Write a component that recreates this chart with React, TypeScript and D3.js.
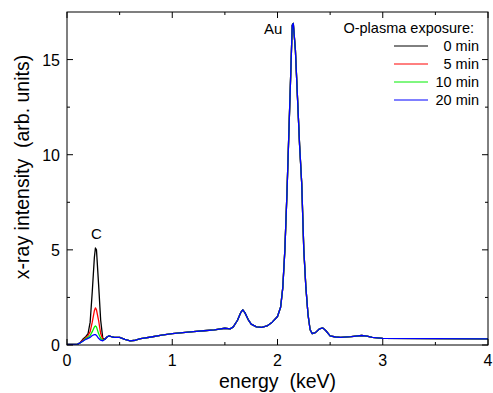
import React, { useEffect, useRef } from 'react';
import * as d3 from 'd3';

// energies (keV) of the C region, where the 4 series differ
const cEnergy = [0, 0.05, 0.1, 0.12, 0.15, 0.18, 0.2, 0.22, 0.24, 0.26, 0.27, 0.28, 0.3, 0.32, 0.34];
const c0min = [0.03, 0.03, 0.05, 0.1, 0.3, 0.45, 0.6, 1.2, 2.8, 4.6, 5.1, 5.0, 3.2, 1.3, 0.35];
const c5min = [0.03, 0.03, 0.05, 0.1, 0.25, 0.4, 0.5, 0.7, 1.2, 1.8, 1.95, 1.85, 1.3, 0.6, 0.3];
const c10min = [0.03, 0.03, 0.05, 0.1, 0.2, 0.35, 0.4, 0.5, 0.7, 0.95, 1.0, 0.95, 0.6, 0.35, 0.25];
const c20min = [0.03, 0.03, 0.05, 0.1, 0.2, 0.3, 0.35, 0.4, 0.5, 0.55, 0.55, 0.5, 0.35, 0.25, 0.22];

// shared part of the spectrum (all series overlap)
const sharedEnergy = [0.36, 0.38, 0.4, 0.43, 0.45, 0.5, 0.55, 0.6, 0.65, 0.7, 0.8, 0.9, 1.0, 1.1, 1.2, 1.3, 1.4, 1.5, 1.55, 1.58, 1.62, 1.65, 1.67, 1.69, 1.72, 1.75, 1.8, 1.85, 1.9, 1.95, 2.0, 2.03, 2.05, 2.07, 2.09, 2.11, 2.13, 2.14, 2.15, 2.17, 2.19, 2.21, 2.23, 2.25, 2.27, 2.29, 2.31, 2.33, 2.36, 2.4, 2.43, 2.46, 2.5, 2.55, 2.6, 2.7, 2.8, 2.85, 2.9, 3.0, 3.5, 4.0];
const sharedIntensity = [0.3, 0.42, 0.48, 0.42, 0.4, 0.4, 0.3, 0.22, 0.25, 0.33, 0.42, 0.52, 0.6, 0.65, 0.7, 0.75, 0.8, 0.88, 0.85, 0.95, 1.3, 1.7, 1.85, 1.7, 1.35, 1.1, 0.95, 0.93, 1.0, 1.2, 1.5, 2.0, 3.0, 5.0, 8.0, 11.5, 15.0, 16.8, 16.9, 15.5, 13.0, 10.5, 8.5, 5.0, 3.0, 1.6, 0.8, 0.6, 0.65, 0.85, 0.9, 0.75, 0.48, 0.42, 0.4, 0.44, 0.5, 0.47, 0.4, 0.35, 0.33, 0.32];

const seriesNames = ['0 min', '5 min', '10 min', '20 min'];
const seriesColors = ['#000000', '#ff0000', '#00ee00', '#0000ff'];
const seriesC = [c0min, c5min, c10min, c20min];

const xTicks = [0, 1, 2, 3, 4];
const yTicks = [0, 5, 10, 15];

const App = () => {
  const svgRef = useRef<SVGSVGElement>(null);

  useEffect(() => {
    const W = 493, H = 393;
    const margin = { top: 12, right: 5, bottom: 48, left: 67 };
    const width = W - margin.left - margin.right;
    const height = H - margin.top - margin.bottom;
    const font = 'Liberation Sans, Arial, sans-serif';

    const svg = d3.select(svgRef.current).html('').attr('width', W).attr('height', H);
    svg.append('rect').attr('width', W).attr('height', H).attr('fill', '#fff');

    const x = d3.scaleLinear().domain([0, 4]).range([0, width]);
    const y = d3.scaleLinear().domain([0, 17.5]).range([height, 0]);

    const g = svg.append('g').attr('transform', `translate(${margin.left},${margin.top})`);

    const line = d3.line<[number, number]>()
      .x(d => x(d[0]))
      .y(d => y(d[1]));

    seriesC.forEach((c, i) => {
      const pts: [number, number][] = cEnergy.map((e, j) => [e, c[j]]);
      sharedEnergy.forEach((e, j) => pts.push([e, sharedIntensity[j]]));
      g.append('path')
        .attr('d', line(pts))
        .attr('fill', 'none')
        .attr('stroke', seriesColors[i])
        .attr('stroke-width', 1.3)
        .attr('stroke-linejoin', 'round');
    });

    // frame
    g.append('rect')
      .attr('width', width).attr('height', height)
      .attr('fill', 'none').attr('stroke', '#000').attr('stroke-width', 1);

    // inward ticks on all four sides
    const xMinor = d3.range(0.5, 4, 1);
    const yMinor = [2.5, 7.5, 12.5];
    const tick = (x1: number, y1: number, x2: number, y2: number) =>
      g.append('line').attr('x1', x1).attr('y1', y1).attr('x2', x2).attr('y2', y2)
        .attr('stroke', '#000').attr('stroke-width', 1);
    xTicks.forEach(v => { tick(x(v), height, x(v), height - 6); tick(x(v), 0, x(v), 6); });
    xMinor.forEach(v => { tick(x(v), height, x(v), height - 3); tick(x(v), 0, x(v), 3); });
    yTicks.forEach(v => { tick(0, y(v), 6, y(v)); tick(width, y(v), width - 6, y(v)); });
    yMinor.forEach(v => { tick(0, y(v), 3, y(v)); tick(width, y(v), width - 3, y(v)); });

    xTicks.forEach(v => {
      g.append('text').attr('x', x(v)).attr('y', height + 21)
        .attr('text-anchor', 'middle').attr('font-family', font).attr('font-size', 16)
        .text(v);
    });
    yTicks.forEach(v => {
      g.append('text').attr('x', -7).attr('y', y(v) + 6)
        .attr('text-anchor', 'end').attr('font-family', font).attr('font-size', 16)
        .text(v);
    });

    svg.append('text').attr('x', margin.left + width / 2).attr('y', 388)
      .attr('text-anchor', 'middle').attr('font-family', font).attr('font-size', 19.5)
      .style('white-space', 'pre').text('energy  (keV)');
    svg.append('text')
      .attr('transform', `translate(29,${167}) rotate(-90)`)
      .attr('text-anchor', 'middle').attr('font-family', font).attr('font-size', 19.5)
      .style('white-space', 'pre').text('x-ray intensity  (arb. units)');

    // peak labels
    g.append('text').attr('x', x(1.96)).attr('y', 22)
      .attr('text-anchor', 'middle').attr('font-family', font).attr('font-size', 15).text('Au');
    g.append('text').attr('x', x(0.28)).attr('y', 227)
      .attr('text-anchor', 'middle').attr('font-family', font).attr('font-size', 15).text('C');

    // legend
    const lg = svg.append('g');
    lg.append('text').attr('x', 474).attr('y', 33)
      .attr('text-anchor', 'end').attr('font-family', font).attr('font-size', 14.5)
      .text('O-plasma exposure:');
    seriesNames.forEach((n, i) => {
      const yy = 46 + i * 18;
      lg.append('line').attr('x1', 394).attr('x2', 428).attr('y1', yy).attr('y2', yy)
        .attr('stroke', seriesColors[i]).attr('stroke-width', 1);
      lg.append('text').attr('x', 479).attr('y', yy + 5)
        .attr('text-anchor', 'end').attr('font-family', font).attr('font-size', 14.5)
        .text(n);
    });
  }, []);

  return <svg ref={svgRef} style={{ position: 'absolute', left: 0, top: 0 }} />;
};

export default App;
